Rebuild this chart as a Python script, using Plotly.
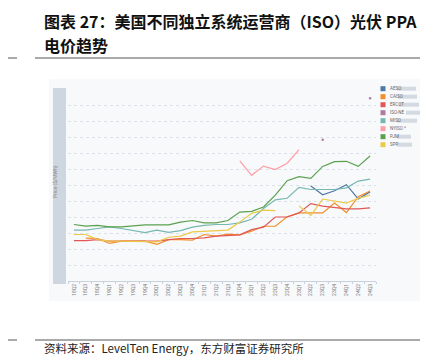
import plotly.graph_objects as go

quarters = ["18Q2", "18Q3", "18Q4", "19Q1", "19Q2", "19Q3", "19Q4", "20Q1", "20Q2", "20Q3",
            "20Q4", "21Q1", "21Q2", "21Q3", "21Q4", "22Q1", "22Q2", "22Q3", "22Q4", "23Q1",
            "23Q2", "23Q3", "23Q4", "24Q1", "24Q2", "24Q3"]
N = None
aeso = [N]*20 + [59.7, 54.2, 56.7, 60.5, 51.6, 56.0]
caiso = [N, 27.0, 26.7, 23.6, 25.0, 25.0, 25.0, 23.0, 26.0, 26.0, 25.7, 29.2, 28.2, 29.5, 29.0,
         31.3, 34.4, 34.4, 40.3, 42.8, 42.8, 42.8, 49.0, 43.0, 53.0, 56.5]
ercot = [25.4, 25.4, 26.0, 25.0, 25.0, 25.0, 25.0, 25.0, 26.0, 26.7, 26.7, 27.1, 28.2, 28.8, 29.0,
         32.3, 33.8, 40.2, 40.2, 42.8, 48.6, 47.0, 46.0, 45.3, 45.3, 46.0]
isone = [N]*21 + [88.7, N, N, N, 114.8]
miso = [32.0, 32.0, 33.0, 34.0, 33.0, 31.7, 30.4, 31.9, 30.6, 31.7, 33.8, 35.0, 35.5, 35.5, 36.5,
        38.8, 45.5, 51.0, 52.0, 58.8, 57.5, 57.5, 57.5, 58.5, 62.8, 64.0]
nyiso = [N]*14 + [75.5, 66.4, 72.2, 70.0, 74.0, 82.6] + [N]*6
pjm = [35.5, 34.5, 35.0, 34.0, 34.0, 34.5, 35.3, 35.3, 35.3, 37.0, 38.0, 36.5, 36.5, 38.0, 43.3,
       43.8, 46.5, 54.0, 63.0, 65.6, 64.5, 72.0, 75.0, 75.2, 72.0, 78.5]
spp = [29.2, 29.2, 26.0, 25.0, 25.0, 25.0, 25.0, 24.6, 27.5, 28.2, 30.9, 31.3, 31.9, 32.0, 37.0,
       42.5, 44.5, 44.2, N, 47.2, 41.2, 51.5, 50.3, 49.0, 52.0, 54.0]

series_names = ["AESO", "CAISO", "ERCOT", "ISO-NE", "MISO", "NYISO *", "PJM", "SPP"]
series_values = [aeso, caiso, ercot, isone, miso, nyiso, pjm, spp]
colors = ["#4E79A7", "#F28E2B", "#E15759", "#B07AA1", "#76B7B2", "#FF9DA7", "#59A14F", "#EDC948"]
legend_bar_widths = [19, 19, 20, 14, 20, 0, 14, 15]

W, H = 428, 362
L, R, T, B = 60, 60, 82, 89
PW, PH = W - L - R, H - T - B


def px(x):
    return (x - L) / PW


def py(y):
    return (H - B - y) / PH


fig = go.Figure()
for name, vals, col in zip(series_names, series_values, colors):
    if name == "ISO-NE":
        fig.add_trace(go.Scatter(x=quarters, y=vals, mode="markers", name=name,
                                 marker=dict(color=col, size=2.5), showlegend=False))
    else:
        fig.add_trace(go.Scatter(x=quarters, y=vals, mode="lines", name=name,
                                 line=dict(color=col, width=1.2), showlegend=False,
                                 connectgaps=False))

shapes = []
annotations = []
# panel background
shapes.append(dict(type="rect", xref="paper", yref="paper", x0=px(41), x1=px(413), y0=py(293), y1=py(71),
                   fillcolor="#F8F9FA", line=dict(width=0), layer="below"))
# y-axis title bar
shapes.append(dict(type="rect", xref="paper", yref="paper", x0=px(45), x1=px(58), y0=py(276), y1=py(80),
                   fillcolor="#CED7E0", line=dict(width=0), layer="below"))
annotations.append(dict(text="Price ($/MWh)", xref="paper", yref="paper", x=px(41.5), y=py(174),
                        showarrow=False, textangle=-90, font=dict(size=5, color="#888888",
                                                                   family="Roboto")))
# title rules
for yy in (50, 332):
    shapes.append(dict(type="line", xref="paper", yref="paper", x0=px(0), x1=px(9), y0=py(yy), y1=py(yy),
                       line=dict(color="#555555", width=1)))
    shapes.append(dict(type="line", xref="paper", yref="paper", x0=px(27), x1=px(420), y0=py(yy), y1=py(yy),
                       line=dict(color="#555555", width=1)))

annotations.append(dict(text="<b>图表 27：美国不同独立系统运营商（ISO）光伏 PPA</b>", xref="paper", yref="paper",
                        x=px(34), y=py(13), xanchor="left", yanchor="middle", showarrow=False,
                        font=dict(size=16, color="#111111", family="Noto Sans CJK SC")))
annotations.append(dict(text="<b>电价趋势</b>", xref="paper", yref="paper",
                        x=px(34), y=py(37), xanchor="left", yanchor="middle", showarrow=False,
                        font=dict(size=16, color="#111111", family="Noto Sans CJK SC")))
annotations.append(dict(text="资料来源：LevelTen Energy，东方财富证券研究所", xref="paper", yref="paper",
                        x=px(34), y=py(340), xanchor="left", yanchor="middle", showarrow=False,
                        font=dict(size=11.5, color="#222222", family="Noto Sans CJK SC")))

# legend
for k, (name, col, bw) in enumerate(zip(series_names, colors, legend_bar_widths)):
    yc = 80.7 + 8 * k
    shapes.append(dict(type="rect", xref="paper", yref="paper", x0=px(372.5), x1=px(377.5),
                       y0=py(yc + 2.5), y1=py(yc - 2.5), fillcolor=col, line=dict(width=0)))
    annotations.append(dict(text=name, xref="paper", yref="paper", x=px(379.5), y=py(yc),
                            xanchor="left", yanchor="middle", showarrow=False,
                            font=dict(size=4.5, color="#666666", family="Roboto")))
    if bw:
        x0 = 412 - bw if name == "ISO-NE" else 389
        if name in ("ERCOT",):
            x0 = 391
        if name == "CAISO":
            x0 = 390
        shapes.append(dict(type="rect", xref="paper", yref="paper", x0=px(x0), x1=px(x0 + bw),
                           y0=py(yc + 2), y1=py(yc - 2), fillcolor="#D3DAE2", line=dict(width=0)))

fig.update_layout(
    width=W, height=H,
    margin=dict(l=L, r=R, t=T, b=B),
    paper_bgcolor="white",
    plot_bgcolor="rgba(0,0,0,0)",
    showlegend=False,
    shapes=shapes,
    annotations=annotations,
    xaxis=dict(type="category", categoryarray=quarters, range=[-0.5, 25.5],
               tickangle=-90, tickfont=dict(size=5, color="#777777", family="Roboto"),
               showgrid=False, showline=True, linecolor="#C9D2DC", linewidth=1,
               ticks="outside", ticklen=2, tickcolor="#C9D2DC", tickson="boundaries",
               zeroline=False, fixedrange=True),
    yaxis=dict(range=[0, 120], dtick=10, showticklabels=False, showgrid=True,
               gridcolor="#DCE2E9", griddash="dot", gridwidth=1,
               zeroline=False, showline=False, ticks="", fixedrange=True),
)

fig.write_html("out.html")
